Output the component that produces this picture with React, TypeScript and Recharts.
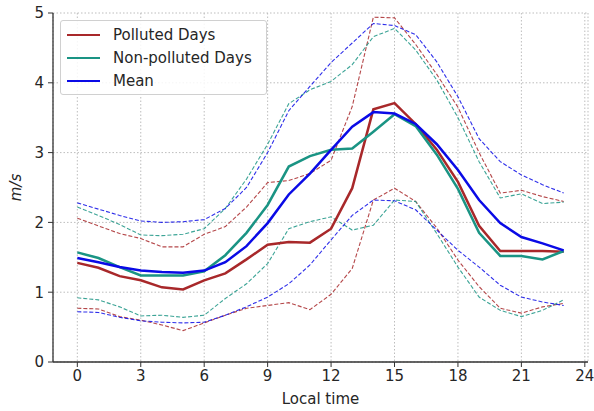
import { LineChart, Line, XAxis, YAxis, CartesianGrid, Legend, Label } from 'recharts';

const hours = [0, 1, 2, 3, 4, 5, 6, 7, 8, 9, 10, 11, 12, 13, 14, 15, 16, 17, 18, 19, 20, 21, 22, 23];

const polluted = [1.42, 1.35, 1.23, 1.17, 1.07, 1.04, 1.17, 1.27, 1.47, 1.68, 1.72, 1.71, 1.91, 2.49, 3.62, 3.71, 3.41, 3.04, 2.58, 1.95, 1.59, 1.59, 1.59, 1.58];
const pollutedUpper = [2.06, 1.95, 1.84, 1.77, 1.65, 1.65, 1.83, 1.94, 2.22, 2.57, 2.6, 2.7, 2.89, 3.66, 4.94, 4.93, 4.55, 4.12, 3.65, 3.0, 2.42, 2.46, 2.37, 2.3];
const pollutedLower = [0.77, 0.76, 0.65, 0.6, 0.53, 0.45, 0.56, 0.67, 0.77, 0.81, 0.85, 0.75, 0.97, 1.34, 2.32, 2.49, 2.3, 1.92, 1.46, 1.08, 0.77, 0.7, 0.79, 0.84];

const nonPolluted = [1.57, 1.49, 1.36, 1.24, 1.24, 1.24, 1.3, 1.53, 1.85, 2.25, 2.8, 2.95, 3.04, 3.06, 3.3, 3.55, 3.38, 2.97, 2.48, 1.85, 1.52, 1.52, 1.47, 1.59];
const nonPollutedUpper = [2.22, 2.1, 1.97, 1.82, 1.81, 1.83, 1.91, 2.2, 2.62, 3.12, 3.7, 3.9, 4.02, 4.26, 4.66, 4.78, 4.47, 4.04, 3.5, 2.87, 2.35, 2.41, 2.27, 2.29];
const nonPollutedLower = [0.92, 0.89, 0.79, 0.66, 0.67, 0.64, 0.67, 0.91, 1.12, 1.41, 1.91, 2.01, 2.08, 1.89, 1.96, 2.32, 2.3, 1.84, 1.36, 0.93, 0.74, 0.65, 0.74, 0.89];

const mean = [1.49, 1.43, 1.36, 1.31, 1.29, 1.28, 1.31, 1.43, 1.66, 1.99, 2.4, 2.7, 3.04, 3.37, 3.58, 3.56, 3.41, 3.12, 2.75, 2.32, 1.99, 1.79, 1.7, 1.6];
const meanUpper = [2.28, 2.19, 2.1, 2.02, 2.0, 2.01, 2.04, 2.2, 2.5, 3.0, 3.6, 3.95, 4.29, 4.57, 4.85, 4.82, 4.69, 4.3, 3.8, 3.2, 2.87, 2.68, 2.54, 2.42];
const meanLower = [0.72, 0.71, 0.64, 0.59, 0.57, 0.56, 0.57, 0.67, 0.79, 0.93, 1.12, 1.39, 1.75, 2.1, 2.32, 2.31, 2.18, 1.89, 1.6, 1.36, 1.1, 0.93, 0.86, 0.81];

const xTicks = [0, 3, 6, 9, 12, 15, 18, 21, 24];
const yTicks = [0, 1, 2, 3, 4, 5];

const RED = '#a8282a';
const TEAL = '#1a9484';
const BLUE = '#0a0ae6';

const legendItems = [
  { name: 'Polluted Days', color: RED },
  { name: 'Non-polluted Days', color: TEAL },
  { name: 'Mean', color: BLUE },
];

const data = hours.map((h, i) => ({
  hour: h,
  polluted: polluted[i],
  pollutedUpper: pollutedUpper[i],
  pollutedLower: pollutedLower[i],
  nonPolluted: nonPolluted[i],
  nonPollutedUpper: nonPollutedUpper[i],
  nonPollutedLower: nonPollutedLower[i],
  mean: mean[i],
  meanUpper: meanUpper[i],
  meanLower: meanLower[i],
}));

const FONT = '"DejaVu Sans", sans-serif';
const tickStyle = { fontSize: 15, fill: '#262626', fontFamily: FONT };

function LegendBox() {
  return (
    <div
      style={{
        position: 'relative',
        width: 205,
        height: 73,
        border: '1px solid #d0d0d0',
        borderRadius: 3,
        background: 'rgba(255,255,255,0.85)',
        fontFamily: FONT,
        fontSize: 15,
        color: '#262626',
      }}
    >
      {legendItems.map((it, i) => (
        <div key={it.name} style={{ position: 'absolute', left: 6, top: 3 + i * 23, height: 22, display: 'flex', alignItems: 'center' }}>
          <span style={{ display: 'inline-block', width: 33, height: 2.5, background: it.color, marginRight: 13 }} />
          <span style={{ whiteSpace: 'nowrap' }}>{it.name}</span>
        </div>
      ))}
    </div>
  );
}

const dashed = { strokeWidth: 1.1, strokeDasharray: '4 2', strokeOpacity: 0.85, dot: false, legendType: 'none' as const, isAnimationActive: false };
const solid = { strokeWidth: 2.5, dot: false, isAnimationActive: false };

export default function App() {
  return (
    <div style={{ position: 'absolute', left: 0, top: 0, width: 594, height: 411, background: '#fff' }}>
      <LineChart width={594} height={411} data={data} margin={{ top: 13, right: 6, bottom: 0, left: 13 }} style={{ fontFamily: FONT }}>
        <CartesianGrid stroke="#bdbdbd" strokeDasharray="1.5 2" />
        <XAxis
          dataKey="hour"
          type="number"
          domain={[-1.15, 24.15]}
          ticks={xTicks}
          allowDataOverflow
          height={49}
          tick={tickStyle}
          tickSize={5}
          tickMargin={3}
          axisLine={{ stroke: '#333', strokeWidth: 1.3 }}
          tickLine={{ stroke: '#333' }}
        >
          <Label value="Local time" position="insideBottom" offset={7} style={{ fontSize: 15, fill: '#262626', fontFamily: FONT }} />
        </XAxis>
        <XAxis
          xAxisId="top"
          orientation="top"
          dataKey="hour"
          type="number"
          domain={[-1.15, 24.15]}
          height={0}
          tick={false}
          tickLine={false}
          axisLine={{ stroke: '#333', strokeWidth: 1.3 }}
        />
        <YAxis
          domain={[0, 5]}
          ticks={yTicks}
          allowDataOverflow
          width={40}
          tick={tickStyle}
          tickSize={5}
          tickMargin={4}
          axisLine={{ stroke: '#333', strokeWidth: 1.3 }}
          tickLine={{ stroke: '#333' }}
        >
          <Label
            content={({ viewBox }: any) => {
              const vb = viewBox || { x: 13, y: 13, width: 40, height: 349 };
              const x = vb.x + 3;
              const y = vb.y + vb.height / 2;
              return (
                <text x={x} y={y} transform={`rotate(-90 ${x} ${y})`} textAnchor="middle" dominantBaseline="central" fontSize={15} fontStyle="italic" fill="#262626" fontFamily={FONT}>
                  m/s
                </text>
              );
            }}
          />
        </YAxis>
        <YAxis
          yAxisId="right"
          orientation="right"
          domain={[0, 5]}
          width={0}
          tick={false}
          tickLine={false}
          axisLine={{ stroke: '#333', strokeWidth: 1.3 }}
        />
        <Legend
          content={() => <LegendBox />}
          layout="horizontal"
          verticalAlign="middle"
          align="center"
          wrapperStyle={{ left: 60, top: 20, width: 207, height: 75 }}
        />

        <Line type="linear" dataKey="pollutedUpper" stroke={RED} {...dashed} />
        <Line type="linear" dataKey="pollutedLower" stroke={RED} {...dashed} />
        <Line type="linear" dataKey="nonPollutedUpper" stroke={TEAL} {...dashed} />
        <Line type="linear" dataKey="nonPollutedLower" stroke={TEAL} {...dashed} />
        <Line type="linear" dataKey="meanUpper" stroke={BLUE} {...dashed} />
        <Line type="linear" dataKey="meanLower" stroke={BLUE} {...dashed} />

        <Line type="linear" dataKey="polluted" name="Polluted Days" stroke={RED} {...solid} />
        <Line type="linear" dataKey="nonPolluted" name="Non-polluted Days" stroke={TEAL} {...solid} />
        <Line type="linear" dataKey="mean" name="Mean" stroke={BLUE} {...solid} />
      </LineChart>
    </div>
  );
}
